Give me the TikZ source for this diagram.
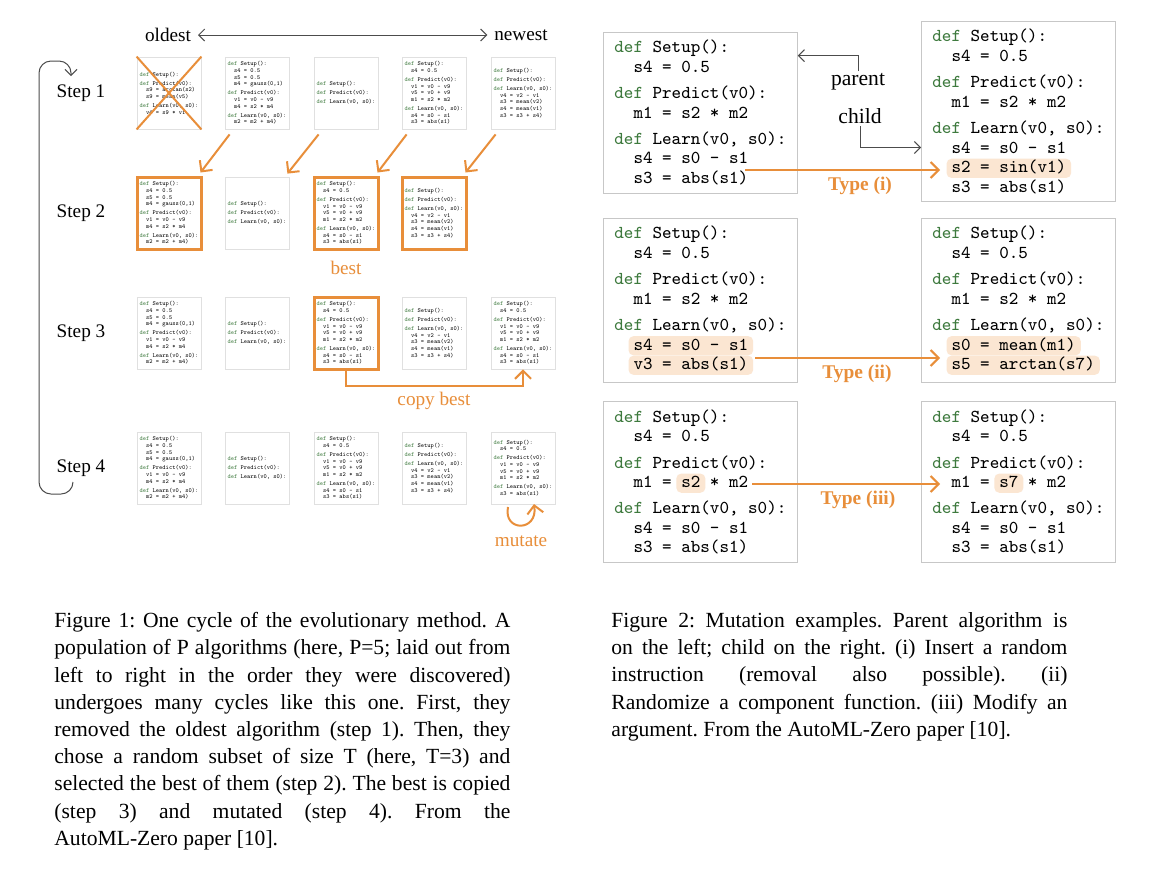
\documentclass[tikz,border=0pt]{standalone}
\usepackage{fontspec}
\setmainfont{Liberation Serif}
\setmonofont{Latin Modern Mono}
\usetikzlibrary{positioning,arrows.meta}
\frenchspacing

\definecolor{orng}{RGB}{232,142,58}
\definecolor{hlfill}{RGB}{251,230,210}
\definecolor{defgreen}{RGB}{62,122,62}

\newcommand\df{\textcolor{defgreen}{def}\ }
\newcommand\ind{\hphantom{xx}}
\newcommand\secgap{0.38em}
\newcommand\hl[1]{\hspace*{-2.5pt}\tikz[baseline=(hl_box.base)]\node[hl_box] (hl_box) {#1};\hspace*{-2.5pt}}

% the five programs of the population
\newcommand\algOld{\df Setup():\\[\secgap]\df Predict(v0):\\ \ind s9 = arctan(s2)\\ \ind s9 = mean(v5)\\[\secgap]\df Learn(v0, s0):\\ \ind v4 = s9 * v1}
\newcommand\algA{\df Setup():\\ \ind s4 = 0.5\\ \ind s5 = 0.5\\ \ind m4 = gauss(0,1)\\[\secgap]\df Predict(v0):\\ \ind v1 = v0 - v9\\ \ind m4 = s2 * m4\\[\secgap]\df Learn(v0, s0):\\ \ind m2 = m2 + m4)}
\newcommand\algB{\df Setup():\\[\secgap]\df Predict(v0):\\[\secgap]\df Learn(v0, s0):}
\newcommand\algC{\df Setup():\\ \ind s4 = 0.5\\[\secgap]\df Predict(v0):\\ \ind v1 = v0 - v9\\ \ind v5 = v0 + v9\\ \ind m1 = s2 * m2\\[\secgap]\df Learn(v0, s0):\\ \ind s4 = s0 - s1\\ \ind s3 = abs(s1)}
\newcommand\algD{\df Setup():\\[\secgap]\df Predict(v0):\\[\secgap]\df Learn(v0, s0):\\ \ind v4 = v2 - v1\\ \ind s3 = mean(v2)\\ \ind s4 = mean(v1)\\ \ind s3 = s3 + s4)}
\newcommand\algE{\df Setup():\\ \ind s4 = 0.5\\[\secgap]\df Predict(v0):\\ \ind v1 = v0 - v9\\ \ind v5 = v0 + v9\\ \ind m1 = s2 * m2\\[\secgap]\df Learn(v0, s0):\\ \ind s3 = abs(s1)}

\begin{document}
\begin{tikzpicture}[x=0.5pt, y=-0.5pt,
        algo/.style={draw=black!12, fill=white, minimum width=32pt, minimum height=36pt, inner sep=0pt, align=left, font=\ttfamily\fontsize{3.07}{3.33}\selectfont},
        chosen/.style={algo, draw=orng, line width=1.5pt},
        code_box/.style={draw=black!22, fill=white, minimum width=97pt, inner xsep=4.5pt, inner ysep=4pt, align=left, anchor=west, font=\ttfamily\fontsize{9.1}{9.75}\selectfont},
        hl_box/.style={fill=hlfill, draw=none, rounded corners=2.5pt, inner xsep=2.5pt, inner ysep=0pt, text height=7pt, text depth=2.6pt, minimum size=0pt, anchor=center},
        step_label/.style={font=\fontsize{9.6}{11}\selectfont},
        orange_label/.style={text=orng, inner sep=0pt, font=\fontsize{9.6}{11}\selectfont},
        rel_label/.style={inner sep=1pt, font=\fontsize{10.8}{12}\selectfont},
        type_label/.style={text=orng, font=\bfseries\fontsize{9.7}{11}\selectfont},
        caption/.style={align=left, inner sep=0pt, anchor=north west, font=\fontsize{10.8}{13.6}\selectfont},
        pick/.style={draw=orng, line width=1pt, -{Straight Barb[length=4pt,width=8pt]}},
        thin_arrow/.style={draw=black!70, line width=0.5pt, -{Straight Barb[length=3pt,width=6pt]}}
    ]
        \fill[white] (0,0) rectangle (1165,869);
        \useasboundingbox (0,0) rectangle (1165,869);

        % Left figure: oldest to newest
        \node[step_label] (oldest) at (168,35) {oldest};
        \node[step_label] (newest) at (521,35) {newest};
        \draw[{Straight Barb[length=3pt,width=6pt]}-{Straight Barb[length=3pt,width=6pt]}, black!70, line width=0.5pt] (oldest) -- (newest);

        \foreach \i/\y in {1/93,2/213,3/333,4/468} {
            \node[step_label] (step\i) at (81,\y) {Step \i};
        }

        % Step 1: remove the oldest
        \node[algo] (step1_a) at (169,93) {\algOld};
        \node[algo] (step1_b) at (257,93) {\algA};
        \node[algo] (step1_c) at (346,93) {\algB};
        \node[algo] (step1_d) at (434,93) {\algC};
        \node[algo] (step1_e) at (523,93) {\algD};
        \draw[orng, line width=1pt] (step1_a.north west) -- (step1_a.south east) (step1_a.north east) -- (step1_a.south west);

        % Step 2: random subset, pick best
        \node[chosen] (step2_a) at (169,213) {\algA};
        \node[algo] (step2_b) at (257,213) {\algB};
        \node[chosen] (step2_c) at (346,213) {\algC};
        \node[chosen] (step2_d) at (434,213) {\algD};
        \node[orange_label, below=5pt of step2_c] (best_lbl) {best};
        \foreach \from/\to in {b/a, c/b, d/c, e/d} {
            \draw[pick] ([shift={(5,5)}]step1_\from.south west) -- ([shift={(-2,-3)}]step2_\to.north east);
        }

        % Step 3: copy best
        \node[algo] (step3_a) at (169,333) {\algA};
        \node[algo] (step3_b) at (257,333) {\algB};
        \node[chosen] (step3_c) at (346,333) {\algC};
        \node[algo] (step3_d) at (434,333) {\algD};
        \node[algo] (step3_e) at (523,333) {\algC};
        \draw[pick] (step3_c.south) -- ++(0,15) -| (step3_e.south);
        \node[orange_label] (copy_lbl) at (434,401) {copy best};

        % Step 4: mutate
        \node[algo] (step4_a) at (169,468) {\algA};
        \node[algo] (step4_b) at (257,468) {\algB};
        \node[algo] (step4_c) at (346,468) {\algC};
        \node[algo] (step4_d) at (434,468) {\algD};
        \node[algo] (step4_e) at (523,468) {\algE};
        \coordinate (mut_start) at (508,507);
        \coordinate (mut_end) at (534,504);
        \draw[pick] (mut_start) .. controls (503,532) and (538,532) .. (mut_end);
        \node[orange_label] (mutate_lbl) at (521,541) {mutate};

        % loop back to step 1
        \coordinate (loop_bottom) at (73,482);
        \coordinate (loop_top) at (71,76);
        \draw[thin_arrow, rounded corners=6pt] (loop_bottom) -- (73,494) -- (39,494) -- (39,61) -- (71,61) -- (loop_top);

        % Right figure: parent and child
        \node[code_box] (parent_i) at (603,112.5) {\df Setup():\\ \ind s4 = 0.5\\[\secgap]\df Predict(v0):\\ \ind m1 = s2 * m2\\[\secgap]\df Learn(v0, s0):\\ \ind s4 = s0 - s1\\ \ind s3 = abs(s1)};
        \node[code_box] (child_i) at (921,111.5) {\df Setup():\\ \ind s4 = 0.5\\[\secgap]\df Predict(v0):\\ \ind m1 = s2 * m2\\[\secgap]\df Learn(v0, s0):\\ \ind s4 = s0 - s1\\ \ind\hl{s2 = sin(v1)}\\ \ind s3 = abs(s1)};
        \node[rel_label] (parent_lbl) at (858,82) {parent};
        \node[rel_label] (child_lbl) at (860,116) {child};
        \draw[thin_arrow] (parent_lbl.north) |- ([yshift=-12pt]parent_i.north east);
        \draw[thin_arrow] (child_lbl.south) |- ([yshift=-18pt]child_i.west);
        \coordinate (ins_from) at (745,170);
        \coordinate (ins_to) at (940,170);
        \draw[pick] (ins_from) -- (ins_to);
        \node[type_label] (type_i) at (860,186) {Type (i)};

        \node[code_box] (parent_ii) at (603,300.5) {\df Setup():\\ \ind s4 = 0.5\\[\secgap]\df Predict(v0):\\ \ind m1 = s2 * m2\\[\secgap]\df Learn(v0, s0):\\ \ind\hl{s4 = s0 - s1}\\ \ind\hl{v3 = abs(s1)}};
        \node[code_box] (child_ii) at (921,300.5) {\df Setup():\\ \ind s4 = 0.5\\[\secgap]\df Predict(v0):\\ \ind m1 = s2 * m2\\[\secgap]\df Learn(v0, s0):\\ \ind\hl{s0 = mean(m1)}\\ \ind\hl{s5 = arctan(s7)}};
        \coordinate (fn_from) at (755,358);
        \coordinate (fn_to) at (940,358);
        \draw[pick] (fn_from) -- (fn_to);
        \node[type_label] (type_ii) at (857,374) {Type (ii)};

        \node[code_box] (parent_iii) at (603,482) {\df Setup():\\ \ind s4 = 0.5\\[\secgap]\df Predict(v0):\\ \ind m1 = \hl{s2} * m2\\[\secgap]\df Learn(v0, s0):\\ \ind s4 = s0 - s1\\ \ind s3 = abs(s1)};
        \node[code_box] (child_iii) at (921,482) {\df Setup():\\ \ind s4 = 0.5\\[\secgap]\df Predict(v0):\\ \ind m1 = \hl{s7} * m2\\[\secgap]\df Learn(v0, s0):\\ \ind s4 = s0 - s1\\ \ind s3 = abs(s1)};
        \coordinate (arg_from) at (752,484);
        \coordinate (arg_to) at (940,484);
        \draw[pick] (arg_from) -- (arg_to);
        \node[type_label] (type_iii) at (858,500) {Type (iii)};

        % Captions
        \node[caption] (fig1_caption) at (54,612) {%
            \makebox[228pt][s]{Figure 1: One cycle of the evolutionary method. A}\\
            \makebox[228pt][s]{population of P algorithms (here, P=5; laid out from}\\
            \makebox[228pt][s]{left to right in the order they were discovered)}\\
            \makebox[228pt][s]{undergoes many cycles like this one. First, they}\\
            \makebox[228pt][s]{removed the oldest algorithm (step 1). Then, they}\\
            \makebox[228pt][s]{chose a random subset of size T (here, T=3) and}\\
            \makebox[228pt][s]{selected the best of them (step 2). The best is copied}\\
            \makebox[228pt][s]{(step 3) and mutated (step 4). From the}\\
            AutoML-Zero paper [10].};
        \node[caption] (fig2_caption) at (611,612) {%
            \makebox[228pt][s]{Figure 2: Mutation examples. Parent algorithm is}\\
            \makebox[228pt][s]{on the left; child on the right. (i) Insert a random}\\
            \makebox[228pt][s]{instruction (removal also possible). (ii)}\\
            \makebox[228pt][s]{Randomize a component function. (iii) Modify an}\\
            argument. From the AutoML-Zero paper [10].};
    \end{tikzpicture}
\end{document}
